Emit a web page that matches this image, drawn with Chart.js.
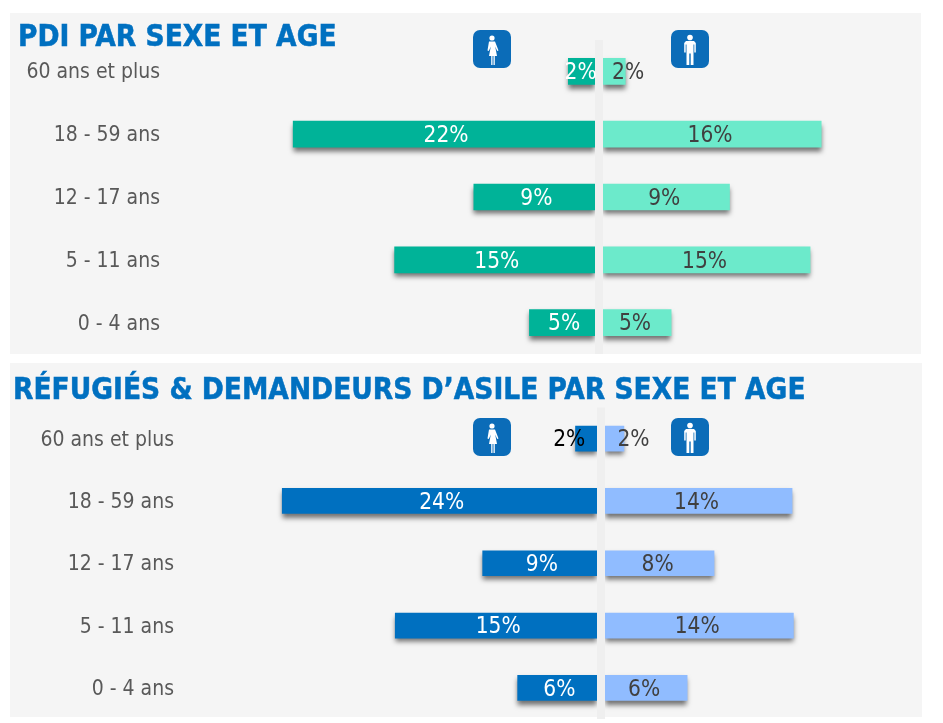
<!DOCTYPE html>
<html lang="fr">
<head>
<meta charset="utf-8">
<title>PDI et réfugiés par sexe et age</title>
<script src="https://cdn.jsdelivr.net/npm/chart.js@4"></script>
<style>
  html, body { margin: 0; padding: 0; background: #fff; }
  body { position: relative; width: 943px; height: 723px; overflow: hidden; font-family: "DejaVu Sans Condensed", "DejaVu Sans", sans-serif; }
  .panel { position: absolute; background: #f5f5f5; }
  .box { position: absolute; }
  h2 { position: absolute; margin: 0; color: #0070c0; font: bold 29.500px "DejaVu Sans Condensed", "DejaVu Sans", sans-serif; white-space: nowrap; -webkit-text-stroke: 0.5px #0070c0; }
  svg { position: absolute; }
</style>
</head>
<body>
<div class="panel" style="left:10px;top:13px;width:911px;height:341px"></div>
<div class="panel" style="left:10px;top:363px;width:912px;height:354px"></div>

<div class="box" style="left:10px;top:13px;width:911px;height:341px"><canvas id="pdiChart"></canvas></div>
<div class="box" style="left:10px;top:363px;width:912px;height:356px"><canvas id="refChart"></canvas></div>

<h2 style="left:18px;top:19px">PDI PAR SEXE ET AGE</h2>
<h2 style="left:13px;top:372px">RÉFUGIÉS &amp; DEMANDEURS D’ASILE PAR SEXE ET AGE</h2>

<svg style="left:473px;top:30px" width="38" height="38" viewBox="0 0 38 38"><use href="#woman"/></svg>
<svg style="left:671px;top:30px" width="38" height="38" viewBox="0 0 38 38"><use href="#man"/></svg>
<svg style="left:473px;top:418px" width="38" height="38" viewBox="0 0 38 38"><use href="#woman"/></svg>
<svg style="left:671px;top:418px" width="38" height="38" viewBox="0 0 38 38"><use href="#man"/></svg>

<svg width="0" height="0">
  <defs>
    <g id="woman">
      <rect width="38" height="38" rx="7" fill="#0b6cb8"/>
      <circle cx="19" cy="8" r="2.600" fill="#fff"/>
      <path d="M16 11.500h6l3.500 9-1.300.5-2-4.500 1.800 9.500h-2.200v9h-1.300v-9h-1v9h-1.300v-9h-2.200l1.800-9.500-2 4.500-1.300-.5z" fill="#fff"/>
    </g>
    <g id="man">
      <rect width="38" height="38" rx="7" fill="#0b6cb8"/>
      <circle cx="19" cy="7.500" r="2.800" fill="#fff"/>
      <path d="M15 11h8l1.800 2v9.500h-1.500v-8h-.8v20.500h-2.800v-11.500h-1.400v11.500h-2.800v-20.500h-.8v8h-1.500v-9.500z" fill="#fff"/>
    </g>
  </defs>
</svg>

<script>
'use strict';

const ageGroups = ['60 ans et plus', '18 - 59 ans', '12 - 17 ans', '5 - 11 ans', '0 - 4 ans'];

// PDI
const pdiFemmes = [2.2, 22, 9, 14.7, 5];
const pdiHommes = [1.9, 16, 9.4, 15.2, 5.2];

// Refugies et demandeurs d'asile
const refFemmes = [1.9, 23.7, 8.8, 15.3, 6.2];
const refHommes = [1.7, 14.2, 8.4, 14.3, 6.4];

const greyText = '#595959';
const bandColor = '#efefef';
const darkLabel = '#404040';

// shadow under the bars
const barShadow = {
    id: 'barShadow',
    beforeDatasetsDraw(chart) {
        const c = chart.ctx;
        c.save();
        c.shadowColor = 'rgba(0,0,0,0.55)';
        c.shadowBlur = 5;
        c.shadowOffsetY = 4;
    },
    afterDatasetsDraw(chart) {
        chart.ctx.restore();
    }
};

// no datalabels plugin here, so write the percentages by hand
const barLabels = {
    id: 'barLabels',
    afterDraw(chart) {
        const c = chart.ctx;
        c.save();
        c.font = '22.5px "DejaVu Sans Condensed", "DejaVu Sans", sans-serif';
        c.textAlign = 'center';
        c.textBaseline = 'middle';
        chart.data.datasets.forEach((ds, d) => {
            chart.getDatasetMeta(d).data.forEach((bar, i) => {
                const pull = ds.data[i] < 0 ? 2 : -2;
                const shift = ds.labelShift[i] || 0;
                c.fillStyle = ds.labelColors[i];
                c.fillText(Math.round(Math.abs(ds.data[i])) + '%', (bar.x + bar.base) / 2 + pull + shift, bar.y + 2);
            });
        });
        c.restore();
    }
};

function drawPyramid(id, femmes, hommes, look) {
    return new Chart(document.getElementById(id), {
        type: 'bar',
        data: {
            labels: ageGroups,
            datasets: [{
                label: 'Femmes',
                data: femmes.map(v => -v),
                backgroundColor: look.femmeColor,
                labelColors: look.femmeText,
                labelShift: look.femmeShift
            }, {
                label: 'Hommes',
                data: hommes,
                backgroundColor: look.hommeColor,
                labelColors: look.hommeText,
                labelShift: look.hommeShift
            }]
        },
        options: {
            indexAxis: 'y',
            responsive: true,
            maintainAspectRatio: false,
            animation: false,
            barThickness: look.barHeight,
            layout: { padding: { top: look.top, right: look.right, bottom: 0, left: 0 } },
            plugins: { legend: { display: false }, tooltip: { enabled: false } },
            scales: {
                x: {
                    stacked: true,
                    min: -30,
                    max: 22,
                    afterFit(scale) { scale.height = 0; },
                    border: { display: false },
                    ticks: { display: false, stepSize: 10 },
                    grid: {
                        z: 1,
                        drawTicks: false,
                        lineWidth: 8,
                        color: ctx => (ctx.tick && ctx.tick.value === 0 ? bandColor : 'transparent')
                    }
                },
                y: {
                    stacked: true,
                    // tick padding also eats vertical room, so take that back here
                    afterFit(scale) {
                        scale.width = look.axisWidth;
                        scale.paddingTop = 0;
                        scale.paddingBottom = 0;
                    },
                    border: { display: false },
                    grid: { display: false, drawTicks: false },
                    ticks: {
                        color: greyText,
                        padding: look.tickPadding,
                        labelOffset: 1.5,
                        font: { family: '"DejaVu Sans Condensed", "DejaVu Sans", sans-serif', size: 21 }
                    }
                }
            }
        },
        plugins: [barShadow, barLabels]
    });
}

drawPyramid('pdiChart', pdiFemmes, pdiHommes, {
    femmeColor: '#00b398',
    hommeColor: '#6ceacb',
    femmeText: ['#fff', '#fff', '#fff', '#fff', '#fff'],
    hommeText: [darkLabel, darkLabel, darkLabel, darkLabel, darkLabel],
    femmeShift: [-3, 0, 0, 0, 0],
    hommeShift: [16, 0, 0, 0, 0],
    barHeight: 26,
    top: 27,
    right: 16.4,
    axisWidth: 172,
    tickPadding: 22
});

drawPyramid('refChart', refFemmes, refHommes, {
    femmeColor: '#0070c0',
    hommeColor: '#90bcff',
    femmeText: ['#000', '#fff', '#fff', '#fff', '#fff'],
    hommeText: [darkLabel, darkLabel, darkLabel, darkLabel, darkLabel],
    femmeShift: [-19, 0, 0, 0, 0],
    hommeShift: [21, 0, 0, 0, 0],
    barHeight: 25,
    top: 44.5,
    right: 25,
    axisWidth: 187.5,
    tickPadding: 23.5
});
</script>
</body>
</html>
